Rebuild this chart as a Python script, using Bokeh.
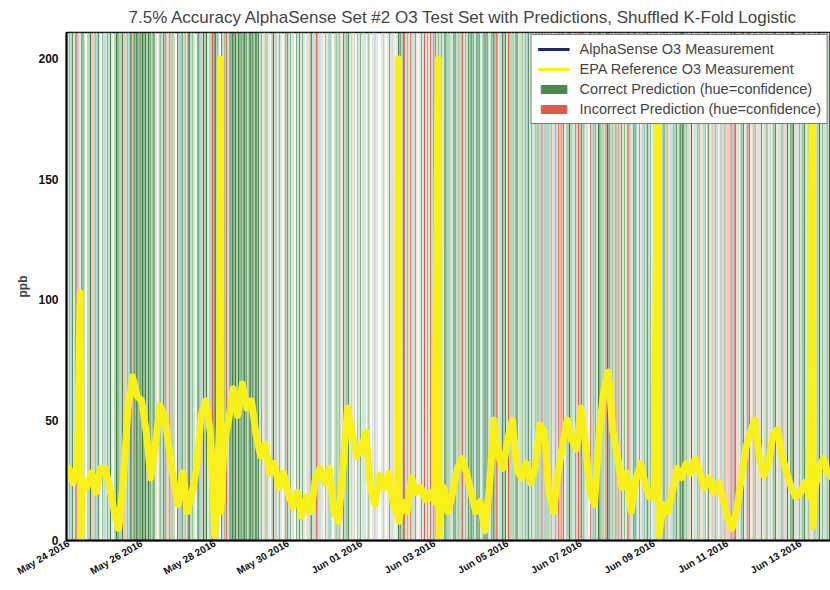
import math
from bokeh.plotting import figure
from bokeh.models import Range1d, FixedTicker, ColumnDataSource, Legend, LegendItem
from bokeh.embed import file_html
from bokeh.resources import INLINE

TITLE = "7.5% Accuracy AlphaSense Set #2 O3 Test Set with Predictions, Shuffled K-Fold Logistic"
Y_LABEL = "ppb"

# x tick positions (days since May 24 2016 00:00) and labels
TICK_DAYS = [0, 2, 4, 6, 8, 10, 12, 14, 16, 18, 20]
TICK_LABELS = ["May 24 2016", "May 26 2016", "May 28 2016", "May 30 2016", "Jun 01 2016",
               "Jun 03 2016", "Jun 05 2016", "Jun 07 2016", "Jun 09 2016", "Jun 11 2016",
               "Jun 13 2016"]
Y_TICKS = [0, 50, 100, 150, 200]

# EPA reference O3 (ppb), read every 3 hours, one row per day (May 24 .. Jun 13)
EPA_PRE_HOUR = -1.5
EPA_PRE_PPB = 30
EPA_DAY_PPB = [
    [30, 24, 33, 25, 22, 28, 20, 30],   # May 24
    [30, 22, 12, 5, 25, 55, 68, 60],    # May 25
    [58, 45, 26, 40, 56, 52, 38, 25],   # May 26
    [15, 28, 12, 20, 30, 52, 58, 45],   # May 27
    [2, 48, 40, 50, 63, 52, 65, 55],    # May 28
    [58, 44, 35, 40, 28, 32, 22, 28],   # May 29
    [20, 14, 20, 10, 18, 12, 26, 30],   # May 30
    [24, 30, 12, 8, 30, 55, 45, 35],    # May 31
    [38, 45, 22, 15, 27, 22, 28, 15],   # Jun 01
    [10, 16, 12, 26, 20, 22, 17, 20],   # Jun 02
    [16, 5, 22, 12, 20, 30, 34, 28],    # Jun 03
    [20, 12, 16, 4, 22, 50, 35, 30],    # Jun 04
    [42, 50, 30, 26, 32, 24, 30, 48],   # Jun 05
    [45, 20, 12, 28, 40, 50, 42, 38],   # Jun 06
    [55, 40, 20, 15, 45, 62, 70, 45],   # Jun 07
    [35, 22, 28, 12, 25, 32, 24, 18],   # Jun 08
    [18, 2, 15, 12, 20, 30, 26, 32],    # Jun 09
    [28, 34, 28, 22, 26, 20, 24, 18],   # Jun 10
    [10, 5, 12, 25, 38, 45, 50, 35],    # Jun 11
    [27, 32, 44, 46, 35, 28, 22, 18],   # Jun 12
    [20, 24, 18, 20, 30, 34, 28, 26],   # Jun 13
]
# sensor spikes (hours since May 24 00:00, ppb)
SPIKE_HOURS = [7.7, 8.0, 99.6, 99.9, 216.3, 216.6, 242.5, 242.8, 386.8, 387.1, 487.8, 488.1]
SPIKE_PPB = [103, 0, 200, 12, 200, 8, 200, 0, 200, 2, 200, 6]

# AlphaSense O3 measurement: not visible in the chart (no readable values)
ALPHASENSE_HOURS = [0]
ALPHASENSE_PPB = [float("nan")]

# hourly test-set predictions, one string per day: G/g/l/b = correct (high->low confidence),
# R/r/p = incorrect (high->low confidence), '.' = none
PRED_DAYS = [
    "gbGlgRblgGl.bgGrlgbGl.gb",  # May 24
    "lgbGl.gGGbgGrlgbGRgGGGgG",  # May 25
    "GGGgGGbGgl.rgbGgrlRbgl.R",  # May 26
    "gbGlgpGGbgl.gGbrGgGlbgRG",  # May 27
    "Ggb.GlgRbgGGGGgGGgGGGbGG",  # May 28
    "GgGGGbglpgbl.gGrblgp.lgR",  # May 29
    "bglp.gbRlgl.bpgGlbRglbp.",  # May 30
    "rlbgp.lgbglpGbgGlbpl.rbg",  # May 31
    "lpb.gl.pblp..lbp.lgbpl.b",  # Jun 01
    "GGbGRlgpRlbgp.lgbRpglRbg",  # Jun 02
    "RlgbglgGbglbgGlgbgRlgbGg",  # Jun 03
    "GgbgGglbGgGlbgGgRglbGgGl",  # Jun 04
    "RgbglGgblgpgbGlgblgrgbRl",  # Jun 05
    "gbglgpbglRrgRpbgGglbgrRg",  # Jun 06
    "Rgblp.RbgglGGbglRGGbglgr",  # Jun 07
    "gbRlgpgRlbgGblgpbglGbgpl",  # Jun 08
    "bglpgbGlgpblgbGlgGGGbglp",  # Jun 09
    "Gplbrgplbg.Gplrbglpbrlgp",  # Jun 10
    "rlRbRRplbgGpbRRlpgrlpbRp",  # Jun 11
    "lgrpblgGplbrgpbGlgGGlpbg",  # Jun 12
    "lgGblgplbglgGlgblglgGlgb",  # Jun 13
]

STRIPE_COLORS = {"G": "#3f7f42", "g": "#7db27c", "l": "#c4e0bf", "b": "#aad6dc",
                 "R": "#e6544a", "r": "#f1a292", "p": "#f8d2ca"}

FONT = "Liberation Sans"
Y_MAX = 211
PX_PER_HOUR = 1.525
X_START = -1.3
FRAME_W = 764

# ---- build sources ----
sx, sc = [], []
for d, row in enumerate(PRED_DAYS):
    for h, code in enumerate(row):
        if code in STRIPE_COLORS:
            sx.append(d * 24 + h + 0.5)
            sc.append(STRIPE_COLORS[code])
stripe_src = ColumnDataSource(dict(x=sx, color=sc))

pts = [(EPA_PRE_HOUR, EPA_PRE_PPB)]
for d, row in enumerate(EPA_DAY_PPB):
    for k, v in enumerate(row):
        pts.append((d * 24 + k * 3, v))
pts += list(zip(SPIKE_HOURS, SPIKE_PPB))
pts.sort()
epa_src = ColumnDataSource(dict(x=[q[0] for q in pts], y=[q[1] for q in pts]))

p = figure(width=830, height=590, output_backend="svg", toolbar_location=None,
           x_range=Range1d(X_START, X_START + FRAME_W / PX_PER_HOUR),
           y_range=Range1d(0, Y_MAX),
           min_border_left=66, min_border_right=0, min_border_top=32, min_border_bottom=50)
p.background_fill_color = "white"
p.border_fill_color = "white"
p.grid.visible = False
p.outline_line_color = "black"
p.outline_line_width = 1.5

p.vbar(x="x", width=0.72, bottom=0, top=Y_MAX, color="color", source=stripe_src, line_width=0)
p.line(x="x", y="y", source=epa_src, color="#f9f01a", line_width=7, line_join="round")
r1 = p.line(x=ALPHASENSE_HOURS, y=ALPHASENSE_PPB, color="#1c2670", line_width=3)

# legend swatches
r2 = p.line(x=[float("nan")], y=[float("nan")], color="#f9f01a", line_width=3)
r3 = p.vbar(x=[float("nan")], top=[float("nan")], width=1, color="#4a8a4a")
r4 = p.vbar(x=[float("nan")], top=[float("nan")], width=1, color="#e05a48")
legend = Legend(items=[
    LegendItem(label="AlphaSense O3 Measurement", renderers=[r1]),
    LegendItem(label="EPA Reference O3 Measurement", renderers=[r2]),
    LegendItem(label="Correct Prediction (hue=confidence)", renderers=[r3]),
    LegendItem(label="Incorrect Prediction (hue=confidence)", renderers=[r4]),
], location="top_right")
legend.margin = 2
legend.padding = 6
legend.spacing = 4
legend.glyph_width = 32
legend.glyph_height = 10
legend.label_height = 16
legend.label_standoff = 10
legend.label_text_font = FONT
legend.label_text_font_size = "14.5px"
legend.border_line_color = "black"
legend.border_line_width = 1.5
legend.background_fill_color = "white"
legend.background_fill_alpha = 1
p.add_layout(legend)

p.title.text = TITLE
p.title.align = "left"
p.title.offset = 62
p.title.text_font = FONT
p.title.text_font_size = "17px"
p.title.text_font_style = "normal"
p.title.standoff = 11

p.xaxis.ticker = FixedTicker(ticks=[d * 24 for d in TICK_DAYS])
p.xaxis.major_label_overrides = {d * 24: lab for d, lab in zip(TICK_DAYS, TICK_LABELS)}
p.xaxis.major_label_orientation = math.pi / 6
p.yaxis.ticker = FixedTicker(ticks=Y_TICKS)
for ax in (p.xaxis, p.yaxis):
    ax.axis_line_color = "black"
    ax.axis_line_width = 2
    ax.major_tick_line_color = None
    ax.minor_tick_line_color = None
    ax.major_tick_out = 0
    ax.major_tick_in = 0
    ax.major_label_text_font = FONT
    ax.major_label_text_font_style = "bold"
    ax.major_label_text_color = "#111111"
p.xaxis.major_label_text_font_size = "10px"
p.xaxis.major_label_standoff = 2
p.yaxis.major_label_text_font_size = "12px"
p.yaxis.major_label_standoff = 8
p.yaxis.axis_label = Y_LABEL
p.yaxis.axis_label_text_font = FONT
p.yaxis.axis_label_text_font_size = "12px"
p.yaxis.axis_label_text_font_style = "bold"
p.yaxis.axis_label_standoff = 5

open("out.html", "w").write(file_html(p, INLINE))
